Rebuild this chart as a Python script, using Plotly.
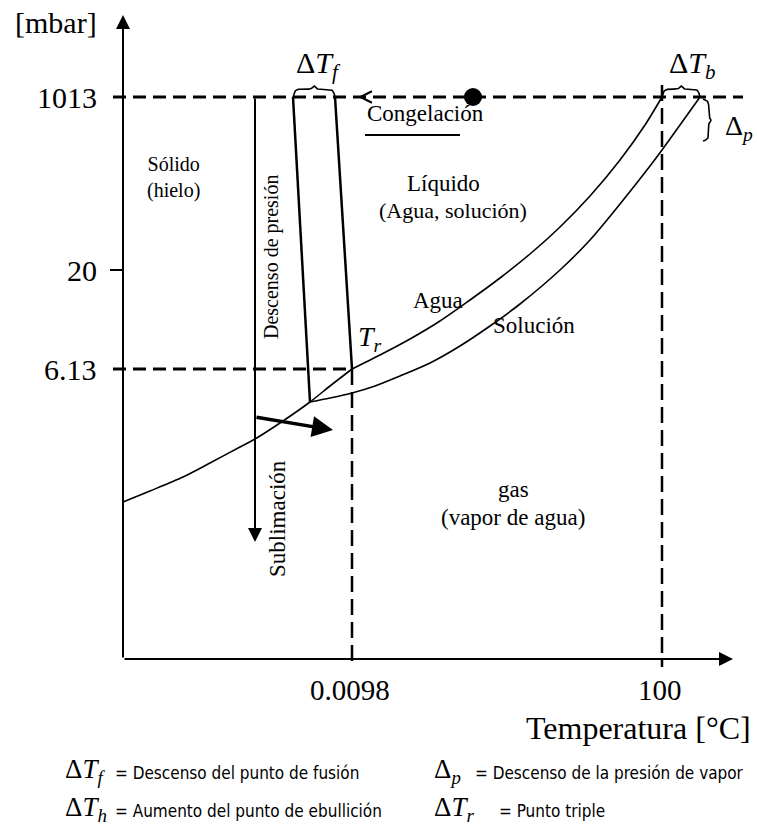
import numpy as np
import plotly.graph_objects as go

# ---------------- data (schematic diagram units: x to the right, y upward) ----------------
p_tick_labels = ["1013", "20", "6.13"]
p_tick_pos = [562, 389, 290]
t_tick_labels = ["0.0098", "100"]
t_tick_pos = [229, 539]

# sublimation curve (ice / vapour)
subl_x = [0, 27, 60, 87, 117, 132, 157, 187, 207, 229]
subl_y = [157, 168, 182, 196, 212, 220, 236, 257, 273, 290]
# vapour pressure curve of pure water
water_vap_x = [229, 257, 287, 317, 347, 377, 407, 437, 467, 497, 522, 539]
water_vap_y = [290, 304, 320, 338, 359, 381, 405, 432, 463, 499, 534, 562]
# vapour pressure curve of the solution
sol_vap_x = [187, 207, 229, 252, 277, 307, 337, 367, 397, 437, 467, 497, 527, 539, 557, 577]
sol_vap_y = [257, 261, 266, 273, 283, 296, 313, 333, 355, 389, 419, 455, 493, 509, 534, 562]
# melting lines
water_melt_x = [212, 229]
water_melt_y = [562, 290]
sol_melt_x = [170, 187]
sol_melt_y = [562, 257]
# process path markers
pressure_drop_x = [132, 132]
pressure_drop_y = [562, 117]
heating_x = [132, 210]
heating_y = [242, 229]
freeze_dot = (350, 562)
freeze_head = 235
freeze_underline_x = [242, 337]
freeze_underline_y = 524

SERIF = "Liberation Serif, Times New Roman, serif"
SANS = "Liberation Sans Narrow, DejaVu Sans Condensed, Liberation Sans, sans-serif"
BLACK = "black"

fig = go.Figure()


def line(x, y, width=1.5, dash="solid", shape="linear"):
    fig.add_trace(go.Scatter(x=x, y=y, mode="lines", hoverinfo="skip",
                             line=dict(color=BLACK, width=width, dash=dash, shape=shape, smoothing=0.8)))


def hbrace(x0, x1, y0, h):
    t = np.linspace(0, 1, 80)
    d = np.minimum(t, 1 - t) * (x1 - x0)
    yy = y0 + h * (0.72 * (1 - np.exp(-d / 1.6)) + 0.28 * np.exp(-(((t - 0.5) * (x1 - x0)) / 2.0) ** 2))
    line(list(x0 + t * (x1 - x0)), list(yy), width=1.6)


def vbrace(y0, y1, x0, h):
    t = np.linspace(0, 1, 80)
    d = np.minimum(t, 1 - t) * abs(y1 - y0)
    xx = x0 + h * (0.72 * (1 - np.exp(-d / 1.6)) + 0.28 * np.exp(-(((t - 0.5) * abs(y1 - y0)) / 2.0) ** 2))
    line(list(xx), list(y0 + t * (y1 - y0)), width=1.6)


# dashed reference lines
line([-10, 620], [p_tick_pos[0]] * 2, width=3, dash="13px,7px")
line([-10, t_tick_pos[0]], [p_tick_pos[2]] * 2, width=3, dash="13px,7px")
line([t_tick_pos[0]] * 2, [p_tick_pos[2], -8], width=2.5, dash="16px,7px")
line([t_tick_pos[1]] * 2, [p_tick_pos[0] + 12, -8], width=2.5, dash="16px,7px")
# tick for 20
line([-13, 0], [p_tick_pos[1]] * 2, width=2)

# curves
line(subl_x, subl_y, width=1.6, shape="spline")
line(water_vap_x, water_vap_y, width=1.6, shape="spline")
line(sol_vap_x, sol_vap_y, width=1.6, shape="spline")
line(water_melt_x, water_melt_y, width=2.5)
line(sol_melt_x, sol_melt_y, width=2.5)
# underline of Congelación
line(freeze_underline_x, [freeze_underline_y] * 2, width=2)

# braces
hbrace(sol_melt_x[0], water_melt_x[0], p_tick_pos[0], 11)
hbrace(water_vap_x[-1], sol_vap_x[-1], p_tick_pos[0], 11)
vbrace(p_tick_pos[0] - 2, p_tick_pos[0] - 44, sol_vap_x[-1] + 3, 8)

# freezing dot
fig.add_trace(go.Scatter(x=[freeze_dot[0]], y=[freeze_dot[1]], mode="markers", hoverinfo="skip",
                         marker=dict(color=BLACK, size=18)))

annotations = []


def arrow(x0, y0, x1, y1, width, head, size):
    annotations.append(dict(x=x1, y=y1, ax=x0, ay=y0, xref="x", yref="y", axref="x", ayref="y",
                            showarrow=True, arrowhead=head, arrowwidth=width, arrowsize=size,
                            arrowcolor=BLACK, text="", standoff=0))


def txt(x, y, s, size, family=SERIF, xanchor="center", yanchor="middle", angle=0):
    annotations.append(dict(x=x, y=y, xref="x", yref="y", text=s, showarrow=False,
                            font=dict(family=family, size=size, color=BLACK),
                            xanchor=xanchor, yanchor=yanchor, textangle=angle))


# axes with arrows
arrow(0, 0, 0, 644, 2, 2, 1.4)
arrow(0, 0, 610, 0, 2, 2, 1.4)
# process arrows
arrow(pressure_drop_x[0], pressure_drop_y[0], pressure_drop_x[1], pressure_drop_y[1], 2, 2, 1.4)
arrow(heating_x[0], heating_y[0], heating_x[1], heating_y[1], 3.5, 2, 1.2)
arrow(freeze_head + 8, freeze_dot[1], freeze_head, freeze_dot[1], 1.5, 5, 1.5)

# tick labels
for lab, pos in zip(p_tick_labels, p_tick_pos):
    txt(-24, pos, lab, 30, xanchor="right")
for lab, pos in zip(t_tick_labels, t_tick_pos):
    txt(pos - 2, -31, lab, 29)
txt(-67, 637, "[mbar]", 30)
txt(630, -69, "Temperatura [°C]", 32, xanchor="right")

# region labels
txt(50, 482, "Sólido<br>(hielo)", 20)
txt(148, 402, "Descenso de presión", 20, angle=-90)
txt(154, 140, "Sublimación", 23, angle=-90)
txt(320, 476, "Líquido", 23)
txt(330, 449, "(Agua, solución)", 22)
txt(315, 359, "Agua", 23)
txt(411, 334, "Solución", 23)
txt(390, 170, "gas", 23)
txt(390, 142, "(vapor de agua)", 23)
txt(302, 546, "Congelación", 23)
txt(233, 321, "<i>T</i><sub><i>r</i></sub>", 28, xanchor="left")
txt(195, 594, "Δ<i>T</i><sub><i>f</i></sub>", 30)
txt(569, 594, "Δ<i>T</i><sub><i>b</i></sub>", 30)
txt(600, 532, "Δ<sub><i>p</i></sub>", 28, xanchor="left")

# legend of symbols
row1, row2 = -112, -150
txt(-60, row1, "Δ<i>T</i><sub><i>f</i></sub>", 27, xanchor="left")
txt(-10, row1 - 2, "= Descenso del punto de fusión", 17, family=SANS, xanchor="left")
txt(309, row1, "Δ<sub><i>p</i></sub>", 27, xanchor="left")
txt(350, row1 - 2, "= Descenso de la presión de vapor", 17, family=SANS, xanchor="left")
txt(-60, row2, "Δ<i>T</i><sub><i>h</i></sub>", 27, xanchor="left")
txt(-10, row2 - 2, "= Aumento del punto de ebullición", 17, family=SANS, xanchor="left")
txt(309, row2, "Δ<i>T</i><sub><i>r</i></sub>", 27, xanchor="left")
txt(374, row2 - 2, "= Punto triple", 17, family=SANS, xanchor="left")

fig.update_layout(
    width=757, height=828, margin=dict(l=0, r=0, t=0, b=0),
    paper_bgcolor="white", plot_bgcolor="white", showlegend=False,
    xaxis=dict(range=[-123, 634], visible=False, fixedrange=True),
    yaxis=dict(range=[-169, 659], visible=False, fixedrange=True),
    annotations=annotations,
)

fig.write_html("out.html")
